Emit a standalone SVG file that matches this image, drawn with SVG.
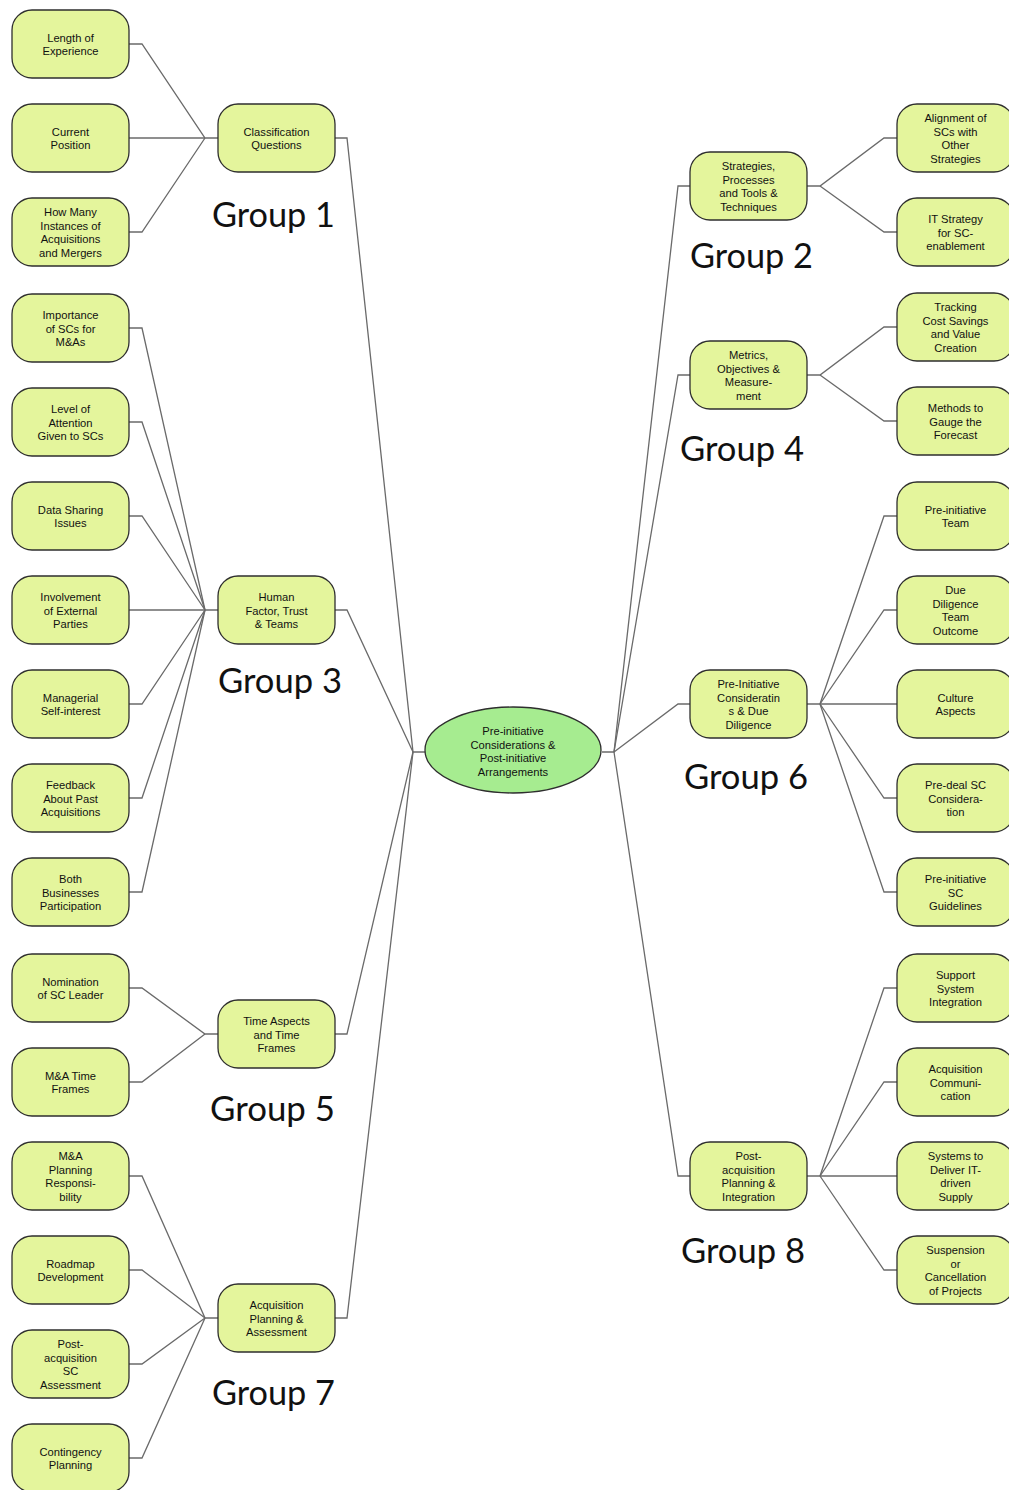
<svg xmlns="http://www.w3.org/2000/svg" width="1009" height="1490" viewBox="0 0 1009 1490">
<style>
.n{fill:#e4f59c;stroke:#2e2e2e;stroke-width:1.3}
.c{fill:#a6ec90;stroke:#2e2e2e;stroke-width:1.3}
.t{font-family:"Liberation Sans",Arial,sans-serif;font-size:11.2px;fill:#111;text-anchor:middle}
.g{font-family:Lato,"Open Sans",sans-serif;font-size:34px;fill:#111}
.e{fill:none;stroke:#6a6a6a;stroke-width:1.3}
</style>
<rect width="1009" height="1490" fill="#fff"/>
<g id="connectors" class="e">
<polyline points="129,44 142,44 205,138 218,138"/>
<polyline points="129,138 205,138"/>
<polyline points="129,232 142,232 205,138"/>
<polyline points="129,328 142,328 205,610 218,610"/>
<polyline points="129,422 142,422 205,610"/>
<polyline points="129,516 142,516 205,610"/>
<polyline points="129,610 205,610"/>
<polyline points="129,704 142,704 205,610"/>
<polyline points="129,798 142,798 205,610"/>
<polyline points="129,892 142,892 205,610"/>
<polyline points="129,988 142,988 205,1034 218,1034"/>
<polyline points="129,1082 142,1082 205,1034"/>
<polyline points="129,1176 142,1176 205,1318 218,1318"/>
<polyline points="129,1270 142,1270 205,1318"/>
<polyline points="129,1364 142,1364 205,1318"/>
<polyline points="129,1458 142,1458 205,1318"/>
<polyline points="335,138 347,138 413,752 425,752"/>
<polyline points="335,610 347,610 413,752"/>
<polyline points="335,1034 347,1034 413,752"/>
<polyline points="335,1318 347,1318 413,752"/>
<polyline points="602,752 614,752 678,186 690,186"/>
<polyline points="614,752 678,375 690,375"/>
<polyline points="614,752 678,704 690,704"/>
<polyline points="614,752 678,1176 690,1176"/>
<polyline points="807,186 820,186 884,138 897,138"/>
<polyline points="820,186 884,232 897,232"/>
<polyline points="807,375 820,375 884,327 897,327"/>
<polyline points="820,375 884,421 897,421"/>
<polyline points="807,704 820,704 884,516 897,516"/>
<polyline points="820,704 884,610 897,610"/>
<polyline points="820,704 897,704"/>
<polyline points="820,704 884,798 897,798"/>
<polyline points="820,704 884,892 897,892"/>
<polyline points="807,1176 820,1176 884,988 897,988"/>
<polyline points="820,1176 884,1082 897,1082"/>
<polyline points="820,1176 897,1176"/>
<polyline points="820,1176 884,1270 897,1270"/>
</g>
<g id="center"><ellipse class="c" cx="513" cy="750" rx="88" ry="43"/>
<text class="t"><tspan x="513" y="735">Pre-initiative</tspan><tspan x="513" dy="13.6">Considerations &amp;</tspan><tspan x="513" dy="13.6">Post-initiative</tspan><tspan x="513" dy="13.6">Arrangements</tspan></text></g>
<!-- left leaves -->
<g id="l1"><rect class="n" x="12" y="10" width="117" height="68" rx="20"/><text class="t"><tspan x="70.5" y="41.7">Length of</tspan><tspan x="70.5" dy="13.6">Experience</tspan></text></g>
<g id="l2"><rect class="n" x="12" y="104" width="117" height="68" rx="20"/><text class="t"><tspan x="70.5" y="135.7">Current</tspan><tspan x="70.5" dy="13.6">Position</tspan></text></g>
<g id="l3"><rect class="n" x="12" y="198" width="117" height="68" rx="20"/><text class="t"><tspan x="70.5" y="216.1">How Many</tspan><tspan x="70.5" dy="13.6">Instances of</tspan><tspan x="70.5" dy="13.6">Acquisitions</tspan><tspan x="70.5" dy="13.6">and Mergers</tspan></text></g>
<g id="l4"><rect class="n" x="12" y="294" width="117" height="68" rx="20"/><text class="t"><tspan x="70.5" y="318.9">Importance</tspan><tspan x="70.5" dy="13.6">of SCs for</tspan><tspan x="70.5" dy="13.6">M&amp;As</tspan></text></g>
<g id="l5"><rect class="n" x="12" y="388" width="117" height="68" rx="20"/><text class="t"><tspan x="70.5" y="412.9">Level of</tspan><tspan x="70.5" dy="13.6">Attention</tspan><tspan x="70.5" dy="13.6">Given to SCs</tspan></text></g>
<g id="l6"><rect class="n" x="12" y="482" width="117" height="68" rx="20"/><text class="t"><tspan x="70.5" y="513.7">Data Sharing</tspan><tspan x="70.5" dy="13.6">Issues</tspan></text></g>
<g id="l7"><rect class="n" x="12" y="576" width="117" height="68" rx="20"/><text class="t"><tspan x="70.5" y="600.9">Involvement</tspan><tspan x="70.5" dy="13.6">of External</tspan><tspan x="70.5" dy="13.6">Parties</tspan></text></g>
<g id="l8"><rect class="n" x="12" y="670" width="117" height="68" rx="20"/><text class="t"><tspan x="70.5" y="701.7">Managerial</tspan><tspan x="70.5" dy="13.6">Self-interest</tspan></text></g>
<g id="l9"><rect class="n" x="12" y="764" width="117" height="68" rx="20"/><text class="t"><tspan x="70.5" y="788.9">Feedback</tspan><tspan x="70.5" dy="13.6">About Past</tspan><tspan x="70.5" dy="13.6">Acquisitions</tspan></text></g>
<g id="l10"><rect class="n" x="12" y="858" width="117" height="68" rx="20"/><text class="t"><tspan x="70.5" y="882.9">Both</tspan><tspan x="70.5" dy="13.6">Businesses</tspan><tspan x="70.5" dy="13.6">Participation</tspan></text></g>
<g id="l11"><rect class="n" x="12" y="954" width="117" height="68" rx="20"/><text class="t"><tspan x="70.5" y="985.7">Nomination</tspan><tspan x="70.5" dy="13.6">of SC Leader</tspan></text></g>
<g id="l12"><rect class="n" x="12" y="1048" width="117" height="68" rx="20"/><text class="t"><tspan x="70.5" y="1079.7">M&amp;A Time</tspan><tspan x="70.5" dy="13.6">Frames</tspan></text></g>
<g id="l13"><rect class="n" x="12" y="1142" width="117" height="68" rx="20"/><text class="t"><tspan x="70.5" y="1160.1">M&amp;A</tspan><tspan x="70.5" dy="13.6">Planning</tspan><tspan x="70.5" dy="13.6">Responsi-</tspan><tspan x="70.5" dy="13.6">bility</tspan></text></g>
<g id="l14"><rect class="n" x="12" y="1236" width="117" height="68" rx="20"/><text class="t"><tspan x="70.5" y="1267.7">Roadmap</tspan><tspan x="70.5" dy="13.6">Development</tspan></text></g>
<g id="l15"><rect class="n" x="12" y="1330" width="117" height="68" rx="20"/><text class="t"><tspan x="70.5" y="1348.1">Post-</tspan><tspan x="70.5" dy="13.6">acquisition</tspan><tspan x="70.5" dy="13.6">SC</tspan><tspan x="70.5" dy="13.6">Assessment</tspan></text></g>
<g id="l16"><rect class="n" x="12" y="1424" width="117" height="68" rx="20"/><text class="t"><tspan x="70.5" y="1455.7">Contingency</tspan><tspan x="70.5" dy="13.6">Planning</tspan></text></g>
<!-- mid left -->
<g id="m1"><rect class="n" x="218" y="104" width="117" height="68" rx="20"/><text class="t"><tspan x="276.5" y="135.7">Classification</tspan><tspan x="276.5" dy="13.6">Questions</tspan></text></g>
<g id="m3"><rect class="n" x="218" y="576" width="117" height="68" rx="20"/><text class="t"><tspan x="276.5" y="600.9">Human</tspan><tspan x="276.5" dy="13.6">Factor, Trust</tspan><tspan x="276.5" dy="13.6">&amp; Teams</tspan></text></g>
<g id="m5"><rect class="n" x="218" y="1000" width="117" height="68" rx="20"/><text class="t"><tspan x="276.5" y="1024.9">Time Aspects</tspan><tspan x="276.5" dy="13.6">and Time</tspan><tspan x="276.5" dy="13.6">Frames</tspan></text></g>
<g id="m7"><rect class="n" x="218" y="1284" width="117" height="68" rx="20"/><text class="t"><tspan x="276.5" y="1308.9">Acquisition</tspan><tspan x="276.5" dy="13.6">Planning &amp;</tspan><tspan x="276.5" dy="13.6">Assessment</tspan></text></g>
<!-- mid right -->
<g id="m2"><rect class="n" x="690" y="152" width="117" height="68" rx="20"/><text class="t"><tspan x="748.5" y="170.1">Strategies,</tspan><tspan x="748.5" dy="13.6">Processes</tspan><tspan x="748.5" dy="13.6">and Tools &amp;</tspan><tspan x="748.5" dy="13.6">Techniques</tspan></text></g>
<g id="m4"><rect class="n" x="690" y="341" width="117" height="68" rx="20"/><text class="t"><tspan x="748.5" y="359.1">Metrics,</tspan><tspan x="748.5" dy="13.6">Objectives &amp;</tspan><tspan x="748.5" dy="13.6">Measure-</tspan><tspan x="748.5" dy="13.6">ment</tspan></text></g>
<g id="m6"><rect class="n" x="690" y="670" width="117" height="68" rx="20"/><text class="t"><tspan x="748.5" y="688.1">Pre-Initiative</tspan><tspan x="748.5" dy="13.6">Consideratin</tspan><tspan x="748.5" dy="13.6">s &amp; Due</tspan><tspan x="748.5" dy="13.6">Diligence</tspan></text></g>
<g id="m8"><rect class="n" x="690" y="1142" width="117" height="68" rx="20"/><text class="t"><tspan x="748.5" y="1160.1">Post-</tspan><tspan x="748.5" dy="13.6">acquisition</tspan><tspan x="748.5" dy="13.6">Planning &amp;</tspan><tspan x="748.5" dy="13.6">Integration</tspan></text></g>
<!-- right leaves -->
<g id="r1"><rect class="n" x="897" y="104" width="117" height="68" rx="20"/><text class="t"><tspan x="955.5" y="122.1">Alignment of</tspan><tspan x="955.5" dy="13.6">SCs with</tspan><tspan x="955.5" dy="13.6">Other</tspan><tspan x="955.5" dy="13.6">Strategies</tspan></text></g>
<g id="r2"><rect class="n" x="897" y="198" width="117" height="68" rx="20"/><text class="t"><tspan x="955.5" y="222.9">IT Strategy</tspan><tspan x="955.5" dy="13.6">for SC-</tspan><tspan x="955.5" dy="13.6">enablement</tspan></text></g>
<g id="r3"><rect class="n" x="897" y="293" width="117" height="68" rx="20"/><text class="t"><tspan x="955.5" y="311.1">Tracking</tspan><tspan x="955.5" dy="13.6">Cost Savings</tspan><tspan x="955.5" dy="13.6">and Value</tspan><tspan x="955.5" dy="13.6">Creation</tspan></text></g>
<g id="r4"><rect class="n" x="897" y="387" width="117" height="68" rx="20"/><text class="t"><tspan x="955.5" y="411.9">Methods to</tspan><tspan x="955.5" dy="13.6">Gauge the</tspan><tspan x="955.5" dy="13.6">Forecast</tspan></text></g>
<g id="r5"><rect class="n" x="897" y="482" width="117" height="68" rx="20"/><text class="t"><tspan x="955.5" y="513.7">Pre-initiative</tspan><tspan x="955.5" dy="13.6">Team</tspan></text></g>
<g id="r6"><rect class="n" x="897" y="576" width="117" height="68" rx="20"/><text class="t"><tspan x="955.5" y="594.1">Due</tspan><tspan x="955.5" dy="13.6">Diligence</tspan><tspan x="955.5" dy="13.6">Team</tspan><tspan x="955.5" dy="13.6">Outcome</tspan></text></g>
<g id="r7"><rect class="n" x="897" y="670" width="117" height="68" rx="20"/><text class="t"><tspan x="955.5" y="701.7">Culture</tspan><tspan x="955.5" dy="13.6">Aspects</tspan></text></g>
<g id="r8"><rect class="n" x="897" y="764" width="117" height="68" rx="20"/><text class="t"><tspan x="955.5" y="788.9">Pre-deal SC</tspan><tspan x="955.5" dy="13.6">Considera-</tspan><tspan x="955.5" dy="13.6">tion</tspan></text></g>
<g id="r9"><rect class="n" x="897" y="858" width="117" height="68" rx="20"/><text class="t"><tspan x="955.5" y="882.9">Pre-initiative</tspan><tspan x="955.5" dy="13.6">SC</tspan><tspan x="955.5" dy="13.6">Guidelines</tspan></text></g>
<g id="r10"><rect class="n" x="897" y="954" width="117" height="68" rx="20"/><text class="t"><tspan x="955.5" y="978.9">Support</tspan><tspan x="955.5" dy="13.6">System</tspan><tspan x="955.5" dy="13.6">Integration</tspan></text></g>
<g id="r11"><rect class="n" x="897" y="1048" width="117" height="68" rx="20"/><text class="t"><tspan x="955.5" y="1072.9">Acquisition</tspan><tspan x="955.5" dy="13.6">Communi-</tspan><tspan x="955.5" dy="13.6">cation</tspan></text></g>
<g id="r12"><rect class="n" x="897" y="1142" width="117" height="68" rx="20"/><text class="t"><tspan x="955.5" y="1160.1">Systems to</tspan><tspan x="955.5" dy="13.6">Deliver IT-</tspan><tspan x="955.5" dy="13.6">driven</tspan><tspan x="955.5" dy="13.6">Supply</tspan></text></g>
<g id="r13"><rect class="n" x="897" y="1236" width="117" height="68" rx="20"/><text class="t"><tspan x="955.5" y="1254.1">Suspension</tspan><tspan x="955.5" dy="13.6">or</tspan><tspan x="955.5" dy="13.6">Cancellation</tspan><tspan x="955.5" dy="13.6">of Projects</tspan></text></g>
<!-- group labels -->
<g id="labels">
<text class="g" x="212" y="227" textLength="123" lengthAdjust="spacingAndGlyphs">Group 1</text>
<text class="g" x="690" y="268" textLength="123" lengthAdjust="spacingAndGlyphs">Group 2</text>
<text class="g" x="218" y="693" textLength="124" lengthAdjust="spacingAndGlyphs">Group 3</text>
<text class="g" x="680" y="461" textLength="124" lengthAdjust="spacingAndGlyphs">Group 4</text>
<text class="g" x="210" y="1121" textLength="125" lengthAdjust="spacingAndGlyphs">Group 5</text>
<text class="g" x="684" y="789" textLength="124" lengthAdjust="spacingAndGlyphs">Group 6</text>
<text class="g" x="212" y="1405" textLength="123" lengthAdjust="spacingAndGlyphs">Group 7</text>
<text class="g" x="681" y="1263" textLength="124" lengthAdjust="spacingAndGlyphs">Group 8</text>
</g>
</svg>
